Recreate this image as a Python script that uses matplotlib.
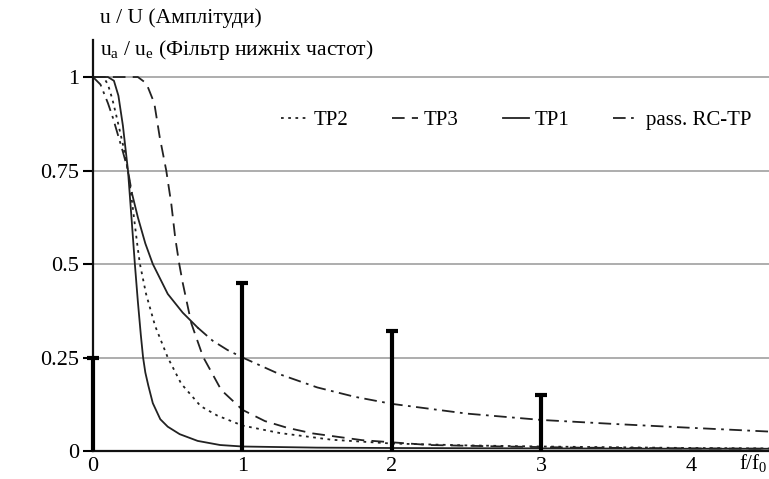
import matplotlib
matplotlib.use("Agg")
import matplotlib.pyplot as plt
from matplotlib.lines import Line2D

plt.rcParams['font.family'] = ['Liberation Serif', 'DejaVu Serif']
plt.rcParams['mathtext.fontset'] = 'custom'
plt.rcParams['mathtext.rm'] = 'Liberation Serif'
plt.rcParams['mathtext.it'] = 'Liberation Serif'

# Амплітуди гармонік прямокутного сигналу
harm_f = [0, 1, 2, 3]
harm_amp = [0.25, 0.45, 0.32, 0.15]

# Пасивний RC-фільтр
rc_f = [0, 0.05, 0.1, 0.134, 0.2, 0.234, 0.26, 0.3, 0.35, 0.4, 0.5, 0.6, 0.65,
        0.7, 0.8, 0.9, 1.0, 1.25, 1.5, 1.75, 2.0, 2.5, 3.0, 3.5, 4.0, 4.52]
rc_u = [1.0, 0.98, 0.93, 0.89, 0.80, 0.75, 0.69, 0.625, 0.555, 0.50, 0.42, 0.37,
        0.35, 0.33, 0.295, 0.27, 0.25, 0.205, 0.17, 0.145, 0.126, 0.10, 0.083,
        0.072, 0.062, 0.052]
# ділянка, яку намальовано суцільною лінією
rc_solid = (6, 13)

# TP1
tp1_f = [0, 0.1, 0.14, 0.17, 0.2, 0.234, 0.26, 0.28, 0.30, 0.32, 0.335, 0.35,
         0.37, 0.4, 0.45, 0.5, 0.58, 0.7, 0.85, 1.0, 1.5, 2.0, 3.0, 4.0, 4.52]
tp1_u = [1.0, 1.0, 0.99, 0.95, 0.87, 0.75, 0.61, 0.5, 0.40, 0.31, 0.25, 0.21,
         0.175, 0.128, 0.085, 0.065, 0.045, 0.027, 0.016, 0.012, 0.009, 0.008,
         0.007, 0.006, 0.006]

# TP2
tp2_f = [0, 0.07, 0.1, 0.13, 0.16, 0.2, 0.234, 0.26, 0.3, 0.314, 0.355, 0.415,
         0.5, 0.59, 0.72, 0.83, 1.0, 1.25, 1.6, 2.0, 2.5, 3.0, 3.5, 4.0, 4.52]
tp2_u = [1.0, 1.0, 0.98, 0.94, 0.89, 0.82, 0.75, 0.67, 0.54, 0.5, 0.42, 0.335,
         0.25, 0.18, 0.12, 0.095, 0.068, 0.048, 0.03, 0.02, 0.015, 0.012, 0.01,
         0.008, 0.007]

# TP3
tp3_f = [0, 0.3, 0.357, 0.41, 0.446, 0.49, 0.524, 0.55, 0.577, 0.6, 0.658, 0.736,
         0.858, 1.0, 1.15, 1.3, 1.47, 1.8, 2.25, 2.75, 3.25, 4.0, 4.52]
tp3_u = [1.0, 1.0, 0.983, 0.93, 0.84, 0.75, 0.66, 0.57, 0.5, 0.45, 0.341, 0.252,
         0.163, 0.11, 0.08, 0.062, 0.047, 0.029, 0.016, 0.012, 0.009, 0.007, 0.006]

y_ticks = [0, 0.25, 0.5, 0.75, 1]
y_labels = ['0', '0.25', '0.5', '0.75', '1']
x_ticks = [0, 1, 2, 3, 4]

fig = plt.figure(figsize=(7.69, 4.79), dpi=100)
ax = fig.add_axes([93 / 769, 28 / 479, 676 / 769, 411 / 479])
ax.set_xlim(0, 4.522)
ax.set_ylim(0, 1.099)

for s in ['top', 'right']:
    ax.spines[s].set_visible(False)
for s in ['left', 'bottom']:
    ax.spines[s].set_linewidth(1.6)
    ax.spines[s].set_color('#111111')

ax.set_yticks(y_ticks)
ax.set_yticklabels(y_labels)
ax.set_xticks(x_ticks)
ax.tick_params(axis='y', length=7, width=1.5, pad=3, labelsize=16)
ax.tick_params(axis='x', length=0, pad=4, labelsize=16)
ax.yaxis.grid(True, color='#a0a0a0', lw=1.2)
ax.set_axisbelow(True)

lw = 1.3
c = '#222222'
dd = (7, 3, 1.5, 3)
ax.plot(tp2_f, tp2_u, color=c, lw=lw, dashes=(1.5, 2.5))
ax.plot(tp3_f, tp3_u, color=c, lw=lw, dashes=(7, 4))
ax.plot(tp1_f, tp1_u, color=c, lw=lw)
a, b = rc_solid
ax.plot(rc_f[:a + 1], rc_u[:a + 1], color=c, lw=lw, dashes=dd)
ax.plot(rc_f[a:b + 1], rc_u[a:b + 1], color=c, lw=lw)
ax.plot(rc_f[b:], rc_u[b:], color=c, lw=lw, dashes=dd)

ax.vlines(harm_f, 0, harm_amp, color='black', lw=3, clip_on=False, zorder=5)
ax.plot(harm_f, harm_amp, ls='none', marker='_', ms=9, mew=3, color='black',
        clip_on=False, zorder=5)

handles = [
    Line2D([], [], color=c, lw=lw, dashes=(1.5, 2.5)),
    Line2D([], [], color=c, lw=lw, dashes=(7, 4)),
    Line2D([], [], color=c, lw=lw),
    Line2D([], [], color=c, lw=lw, dashes=(7, 3, 1.5, 3)),
]
ax.legend(handles, ['TP2', 'TP3', 'TP1', 'pass. RC-TP'], ncol=4, frameon=False,
          loc='center left', bbox_to_anchor=(0.278, 0.805), fontsize=15,
          handlelength=1.25, handletextpad=0.3, columnspacing=2.1,
          borderaxespad=0, borderpad=0)

fig.text(100 / 769, 1 - 18 / 479, 'u / U (Амплітуди)', fontsize=15.5, va='center')
fig.text(100 / 769, 1 - 50 / 479, r'u$_\mathrm{a}$ / u$_\mathrm{e}$ (Фільтр нижніх частот)',
         fontsize=15.5, va='center')
fig.text(739 / 769, 1 - 463 / 479, r'f/f$_\mathrm{0}$', fontsize=15, va='center')

fig.savefig('out.png', dpi=100)
